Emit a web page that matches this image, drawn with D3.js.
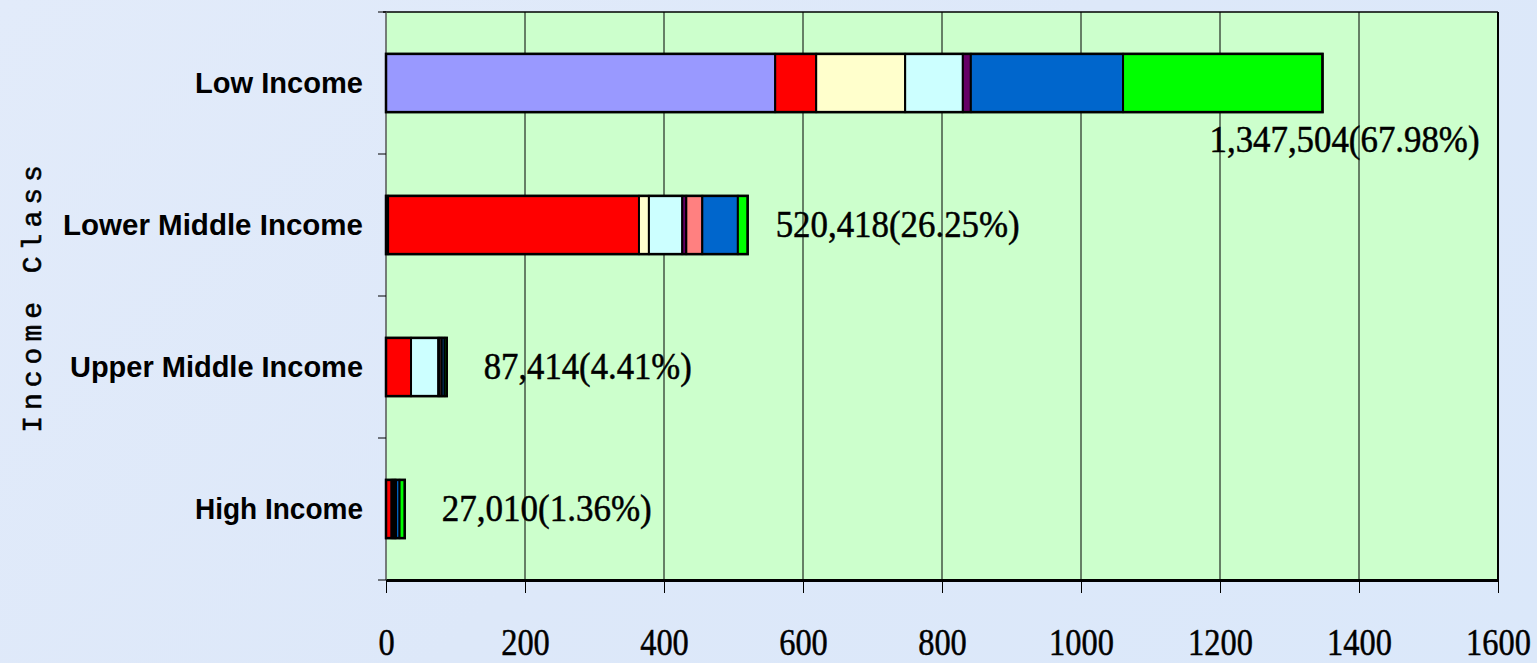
<!DOCTYPE html>
<html>
<head>
<meta charset="utf-8">
<script src="https://cdn.jsdelivr.net/npm/d3@7"></script>
<style>
  html, body { margin: 0; padding: 0; }
  body { width: 1537px; height: 663px; overflow: hidden;
         background: linear-gradient(135deg, #e2ebfa 0%, #dde8f9 50%, #dbe8fa 100%); }
  svg { display: block; }
</style>
</head>
<body>
<svg id="chart" width="1537" height="663"></svg>
<script>
// ---- data (thousands) ----
const categories = ["Low Income", "Lower Middle Income", "Upper Middle Income", "High Income"];
const seriesNames = ["S1", "S2", "S3", "S4", "S5", "S6", "S7", "S8"];
const seriesColors = ["#9999ff", "#ff0000", "#ffffcc", "#ccffff", "#660066", "#ff8080", "#0066cc", "#00ff00"];
const lowIncome         = [560, 59, 128, 83, 11.5, 0, 219, 287];
const lowerMiddleIncome = [3, 361, 14.3, 48, 5.8, 23, 51.2, 14.1];
const upperMiddleIncome = [0, 36, 0, 39.3, 2, 3, 4, 3.1];
const highIncome        = [0, 8, 2, 2, 1, 1.5, 5, 7.5];
const totalLabels = ["1,347,504(67.98%)", "520,418(26.25%)", "87,414(4.41%)", "27,010(1.36%)"];
const xTicks = [0, 200, 400, 600, 800, 1000, 1200, 1400, 1600];
const yTitle = "Income Class";

const rows = [lowIncome, lowerMiddleIncome, upperMiddleIncome, highIncome];
const table = categories.map((c, i) => {
  const o = { category: c };
  seriesNames.forEach((s, j) => o[s] = rows[i][j]);
  return o;
});

const svg = d3.select("#chart");
const plot = { left: 386, right: 1498, top: 12, bottom: 580 };

const x = d3.scaleLinear().domain([0, 1600]).range([plot.left, plot.right]);
const y = d3.scaleBand().domain(categories).range([plot.top, plot.bottom])
  .paddingInner(0.59).paddingOuter(0.295);

// plot background
svg.append("rect")
  .attr("x", plot.left).attr("y", plot.top)
  .attr("width", plot.right - plot.left).attr("height", plot.bottom - plot.top)
  .attr("fill", "#ccffcc");

// gridlines
svg.append("g").selectAll("line").data(xTicks.slice(1))
  .join("line")
  .attr("x1", d => x(d)).attr("x2", d => x(d))
  .attr("y1", plot.top).attr("y2", plot.bottom)
  .attr("stroke", "#000").attr("stroke-width", 1);

// plot border
svg.append("line").attr("x1", plot.left - 3).attr("x2", plot.right).attr("y1", plot.top).attr("y2", plot.top)
  .attr("stroke", "#000").attr("stroke-width", 1.5);
svg.append("line").attr("x1", plot.right).attr("x2", plot.right).attr("y1", plot.top).attr("y2", plot.bottom)
  .attr("stroke", "#000").attr("stroke-width", 2);
svg.append("line").attr("x1", plot.left).attr("x2", plot.left).attr("y1", plot.top).attr("y2", plot.bottom)
  .attr("stroke", "#555").attr("stroke-width", 1.5);

// stacked bars
const stack = d3.stack().keys(seriesNames);
const stacked = stack(table);
const barG = svg.append("g");
stacked.forEach((layer, j) => {
  barG.append("g").selectAll("rect")
    .data(layer.filter(d => d[1] - d[0] > 0))
    .join("rect")
    .attr("x", d => x(d[0]))
    .attr("width", d => x(d[1]) - x(d[0]))
    .attr("y", d => y(d.data.category))
    .attr("height", y.bandwidth())
    .attr("fill", seriesColors[j])
    .attr("stroke", "#000")
    .attr("stroke-width", 2);
});

// outer outline of each bar
const totals = rows.map(r => d3.sum(r));
svg.append("g").selectAll("rect").data(categories)
  .join("rect")
  .attr("x", x(0))
  .attr("width", (d, i) => x(totals[i]) - x(0))
  .attr("y", d => y(d))
  .attr("height", y.bandwidth())
  .attr("fill", "none").attr("stroke", "#000").attr("stroke-width", 2.5);

// x axis
const xAxis = d3.axisBottom(x).tickValues(xTicks).tickFormat(d3.format("d"))
  .tickSize(13).tickSizeOuter(0).tickPadding(62);
const xg = svg.append("g").attr("transform", `translate(0,${plot.bottom})`).call(xAxis);
xg.select(".domain").attr("stroke", "#000").attr("stroke-width", 3);
xg.selectAll(".tick line").attr("stroke", "#000").attr("stroke-width", 1);
xg.selectAll(".tick text")
  .attr("font-family", "'Liberation Serif', 'DejaVu Serif', serif")
  .attr("font-size", 38)
  .attr("dy", "0")
  .attr("fill", "#000")
  .attr("stroke", "#000").attr("stroke-width", 0.5)
  .attr("textLength", d => String(d).length * 16.2)
  .attr("lengthAdjust", "spacingAndGlyphs");

// y axis ticks (category boundaries)
const yEdges = categories.map(c => y(c) - y.step() * y.paddingInner() / 2);
yEdges[0] = plot.top;
yEdges.push(plot.bottom);
svg.append("g").selectAll("line").data(yEdges)
  .join("line")
  .attr("x1", plot.left - 8).attr("x2", plot.left)
  .attr("y1", d => d).attr("y2", d => d)
  .attr("stroke", "#000").attr("stroke-width", 1);

// category labels
const catWidths = { "Low Income": 168, "Lower Middle Income": 300, "Upper Middle Income": 293, "High Income": 168 };
svg.append("g").selectAll("text").data(categories)
  .join("text")
  .attr("x", 363)
  .attr("y", d => y(d) + y.bandwidth() / 2 + 10)
  .attr("text-anchor", "end")
  .attr("font-family", "'Liberation Sans Narrow', 'Liberation Sans', Arial, sans-serif")
  .attr("font-weight", "bold")
  .attr("font-size", 30)
  .attr("fill", "#000")
  .attr("textLength", d => catWidths[d])
  .attr("lengthAdjust", "spacingAndGlyphs")
  .text(d => d);

// total labels
svg.append("g").selectAll("text").data(categories)
  .join("text")
  .attr("x", (d, i) => i === 0 ? x(totals[i]) - 113 : x(totals[i]) + (i === 1 ? 28 : 37))
  .attr("y", (d, i) => i === 0 ? y(d) + y.bandwidth() + 40 : y(d) + y.bandwidth() / 2 + 12)
  .attr("font-family", "'Liberation Serif', 'DejaVu Serif', serif")
  .attr("font-size", 37)
  .attr("fill", "#000")
  .attr("stroke", "#000").attr("stroke-width", 0.5)
  .attr("textLength", (d, i) => [270, 244, 208, 210][i])
  .attr("lengthAdjust", "spacingAndGlyphs")
  .text((d, i) => totalLabels[i]);

// y title
svg.append("text")
  .attr("transform", `translate(41,${(plot.top + plot.bottom) / 2}) rotate(-90)`)
  .attr("text-anchor", "middle")
  .attr("font-family", "'Liberation Mono', 'DejaVu Sans Mono', monospace")
  .attr("font-size", 28)
  .attr("letter-spacing", 6)
  .attr("fill", "#000")
  .attr("stroke", "#000").attr("stroke-width", 0.6)
  .text(yTitle);
</script>
</body>
</html>
